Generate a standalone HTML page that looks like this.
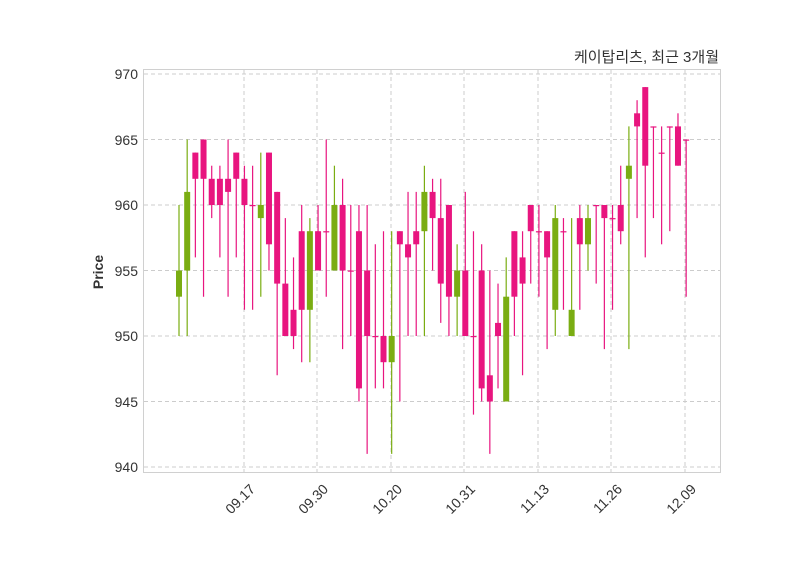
<!DOCTYPE html>
<html><head><meta charset="utf-8"><style>
html,body{margin:0;padding:0;background:#fff;}
svg text{font-family:"Liberation Sans","Noto Sans CJK KR",sans-serif;fill:#333;}
</style></head><body>
<svg id="s" width="800" height="575" viewBox="0 0 800 575" xmlns="http://www.w3.org/2000/svg">
<rect x="0" y="0" width="800" height="575" fill="#fff"/>
<g id="grid" stroke="#cccccc" stroke-dasharray="4,3" stroke-width="1"></g>
<g id="c"></g>
<rect x="143.5" y="69.5" width="577" height="403" fill="none" stroke="#d0d0d0" stroke-width="1"/>
<g font-size="14" text-anchor="end">
<text x="138" y="79">970</text>
<text x="138" y="145">965</text>
<text x="138" y="210">960</text>
<text x="138" y="276">955</text>
<text x="138" y="341">950</text>
<text x="138" y="407">945</text>
<text x="138" y="472">940</text>
</g>
<g font-size="14" text-anchor="end">
<text transform="translate(256,490) rotate(-45)">09.17</text>
<text transform="translate(329,490) rotate(-45)">09.30</text>
<text transform="translate(403,490) rotate(-45)">10.20</text>
<text transform="translate(476,490) rotate(-45)">10.31</text>
<text transform="translate(550,490) rotate(-45)">11.13</text>
<text transform="translate(623,490) rotate(-45)">11.26</text>
<text transform="translate(697,490) rotate(-45)">12.09</text>
</g>
<text transform="translate(103,272) rotate(-90)" font-size="14" font-weight="bold" text-anchor="middle">Price</text>
<text x="719" y="62" font-size="15" text-anchor="end">케이탑리츠, 최근 3개월</text>
</svg>
<script>
var d=[[953,955,960,950],[955,961,965,950],[964,962,964,956],[965,962,965,953],[962,960,963,959],[962,960,963,956],[962,961,965,953],[964,962,964,956],[962,960,963,952],[960,960,963,952],[959,960,964,953],[964,957,964,955],[961,954,961,947],[954,950,959,950],[952,950,956,949],[958,952,960,948],[952,958,959,948],[958,955,960,955],[958,958,965,953],[955,960,963,955],[960,955,962,949],[955,955,960,950],[958,946,960,945],[955,950,960,941],[950,950,957,946],[950,948,958,946],[948,950,958,941],[958,957,958,945],[957,956,961,950],[958,957,961,950],[958,961,963,950],[961,959,962,955],[959,954,962,951],[960,953,960,950],[953,955,957,950],[955,950,961,950],[950,950,958,944],[955,946,957,945],[947,945,955,941],[951,950,954,946],[945,953,956,945],[958,953,958,950],[956,954,958,947],[960,958,960,954],[958,958,960,953],[958,956,958,949],[952,959,960,950],[958,958,959,952],[950,952,959,950],[959,957,960,952],[957,959,960,955],[960,960,960,954],[960,959,960,949],[959,959,960,952],[960,958,963,957],[962,963,966,949],[967,966,968,959],[969,963,969,956],[966,966,966,959],[964,964,966,957],[966,966,966,958],[966,963,967,963],[965,965,965,953]];
var ns="http://www.w3.org/2000/svg",g=document.getElementById('c'),gr=document.getElementById('grid');
function Y(p){return 74+(970-p)*13.1;}
function el(t,a,p){var e=document.createElementNS(ns,t);for(var k in a)e.setAttribute(k,a[k]);p.appendChild(e);}
[970,965,960,955,950,945,940].forEach(function(p){el('line',{x1:144,x2:720,y1:Y(p),y2:Y(p)},gr);});
[244,317,391,464,538,611,685].forEach(function(x){el('line',{x1:x,x2:x,y1:70,y2:472},gr);});
d.forEach(function(c,i){var x=179+8.18*i,up=c[1]>c[0],col=up?'#7aad12':'#e8157f';
el('line',{x1:x,x2:x,y1:Y(c[2]),y2:Y(c[3]),stroke:col,'stroke-width':1.2},g);
var t=Y(Math.max(c[0],c[1])),b=Y(Math.min(c[0],c[1]));
el('rect',{x:x-3,y:t,width:6,height:Math.max(b-t,1.2),fill:col},g);});
</script>
</body></html>
